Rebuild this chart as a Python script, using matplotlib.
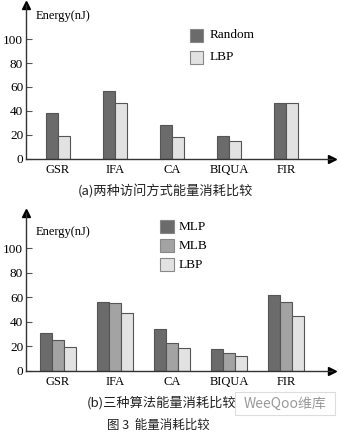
import matplotlib.pyplot as plt
import numpy as np

# Data
categories = ['GSR', 'IFA', 'CA', 'BIQUA', 'FIR']
random_a = [38, 57, 28, 19, 47]
lbp_a = [19, 47, 18.5, 15, 47]

mlp_b = [31, 56, 34, 18, 62]
mlb_b = [25, 55, 22.5, 14.5, 56]
lbp_b = [19.5, 47, 18.5, 12, 45]

yticks = [0, 20, 40, 60, 80, 100]

SERIF = ['Liberation Serif', 'DejaVu Serif']
CJK = ['Noto Sans CJK SC', 'DejaVu Sans']
C_DARK, C_MID, C_LIGHT, C_EDGE = '#6b6b6b', '#a3a3a3', '#e2e2e2', '#555555'

W, H = 339, 432
fig = plt.figure(figsize=(W / 100, H / 100), dpi=100)


def px_axes(x0, y_zero, x1, y_top):
    # axes placed by pixel coordinates of the reference
    return fig.add_axes([x0 / W, (H - y_zero) / H, (x1 - x0) / W, (y_zero - y_top) / H])


def style_axes(ax, ymax, ylabel_y):
    x = np.arange(len(categories))
    ax.set_xlim(-32 / 57, 274 / 57)
    ax.set_ylim(0, ymax)
    ax.spines[['top', 'right']].set_visible(False)
    for s in ['left', 'bottom']:
        ax.spines[s].set_linewidth(1.0)
        ax.spines[s].set_color('#333333')
    ax.set_xticks(x)
    ax.set_xticklabels(categories, family=SERIF, fontsize=9)
    ax.tick_params(axis='x', length=0, pad=4)
    ax.set_yticks(yticks)
    ax.set_yticklabels([str(v) for v in yticks], family=SERIF, fontsize=9.5)
    ax.tick_params(axis='y', direction='in', length=4, width=0.8, pad=2, color='#555555')
    ax.set_facecolor('none')
    # arrow heads
    ax.plot([0], [1], marker='^', color='black', markersize=6, transform=ax.transAxes, clip_on=False)
    ax.plot([1], [0], marker='>', color='black', markersize=6, transform=ax.transAxes, clip_on=False)
    fig.text(36 / W, 1 - ylabel_y / H, 'Energy(nJ)', family=SERIF, fontsize=9, va='center')


# ---- (a) ----
ax1 = px_axes(26, 158.7, 332, 5)
bw = 12 / 57
x = np.arange(len(categories))
ax1.bar(x - bw / 2, random_a, bw, color=C_DARK, edgecolor=C_EDGE, linewidth=0.8)
ax1.bar(x + bw / 2, lbp_a, bw, color=C_LIGHT, edgecolor=C_EDGE, linewidth=0.8)
style_axes(ax1, 128.6, 16)

legend_a = [('Random', C_DARK, 35.5), ('LBP', C_LIGHT, 57.5)]
for name, col, yc in legend_a:
    fig.patches.append(plt.Rectangle((190 / W, 1 - (yc + 6.5) / H), 13 / W, 13 / H,
                                     transform=fig.transFigure, facecolor=col,
                                     edgecolor='#888888', linewidth=0.8))
    fig.text(210 / W, 1 - yc / H, name, family=SERIF, fontsize=9.5, va='center')

fig.text(165 / W, 1 - 192 / H, '(a)两种访问方式能量消耗比较', family=CJK, fontsize=9.5,
         ha='center', va='center', color='#222222')

# ---- (b) ----
ax2 = px_axes(26, 370.7, 332, 213)
ax2.bar(x - bw, mlp_b, bw, color=C_DARK, edgecolor=C_EDGE, linewidth=0.8)
ax2.bar(x, mlb_b, bw, color=C_MID, edgecolor=C_EDGE, linewidth=0.8)
ax2.bar(x + bw, lbp_b, bw, color=C_LIGHT, edgecolor=C_EDGE, linewidth=0.8)
style_axes(ax2, 129, 232)

legend_b = [('MLP', C_DARK, 226.5), ('MLB', C_MID, 245.5), ('LBP', C_LIGHT, 264.5)]
for name, col, yc in legend_b:
    fig.patches.append(plt.Rectangle((160 / W, 1 - (yc + 6.5) / H), 14 / W, 13 / H,
                                     transform=fig.transFigure, facecolor=col,
                                     edgecolor='#888888', linewidth=0.8))
    fig.text(179 / W, 1 - yc / H, name, family=SERIF, fontsize=9.5, va='center')

fig.text(162 / W, 1 - 403 / H, '(b)三种算法能量消耗比较', family=CJK, fontsize=9.5,
         ha='center', va='center', color='#222222')
fig.text(158 / W, 1 - 425 / H, '图 3  能量消耗比较', family=CJK, fontsize=9,
         ha='center', va='center', color='#222222')

# watermark
fig.patches.append(plt.Rectangle((235 / W, 1 - 415 / H), 100 / W, 23 / H,
                                 transform=fig.transFigure, facecolor='white',
                                 edgecolor='#dddddd', linewidth=0.8))
fig.text(285 / W, 1 - 403.5 / H, 'WeeQoo维库', family=CJK, fontsize=10,
         ha='center', va='center', color='#9a9a9a')

fig.savefig('out.png', dpi=100)
